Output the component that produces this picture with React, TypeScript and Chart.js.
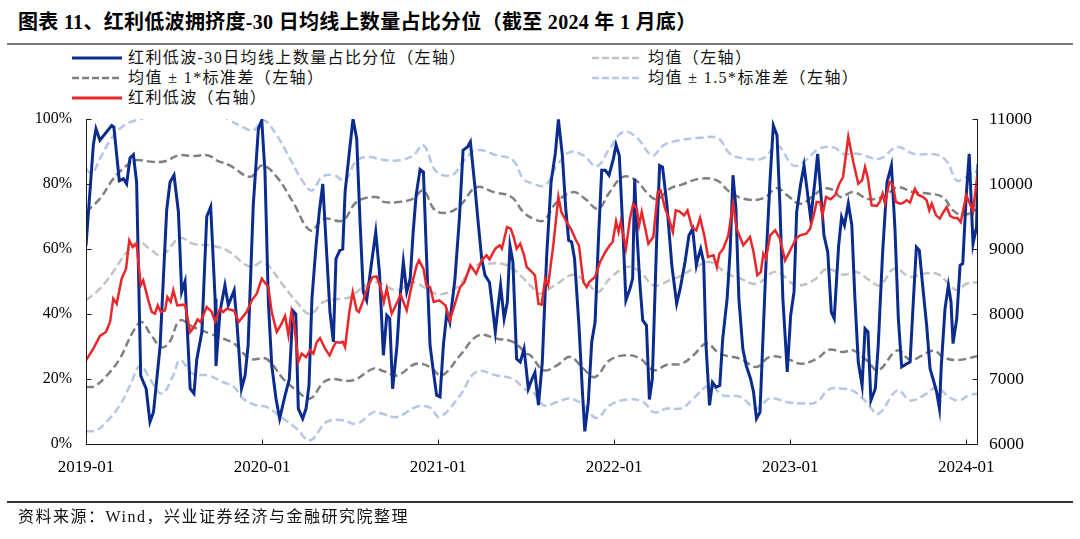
import React, { useEffect, useRef } from "react";
import { Chart, registerables } from "chart.js";

Chart.register(...registerables);

// x values are months since 2019-01
const xTickMonths = [0, 12, 24, 36, 48, 60];
const xTickLabels = ["2019-01", "2020-01", "2021-01", "2022-01", "2023-01", "2024-01"];
const leftTicks = [0, 20, 40, 60, 80, 100];
const rightTicks = [6000, 7000, 8000, 9000, 10000, 11000];

const legendLabels = [
  "红利低波-30日均线上数量占比分位（左轴）",
  "均值（左轴）",
  "均值 ± 1*标准差（左轴）",
  "均值 ± 1.5*标准差（左轴）",
  "红利低波（右轴）",
];

// 红利低波-30日均线上数量占比分位 (%), [month, value]
const crowdPct: [number, number][] = [
  [0, 61], [0.5, 92], [0.68, 97], [0.95, 93.5], [1.75, 98], [1.9, 97.5], [2.27, 81], [2.55, 81.6], [2.77, 80],
  [3.0, 88], [3.23, 89], [3.45, 80.6], [3.73, 21], [4.1, 17], [4.36, 6.8], [4.6, 9.8], [5.05, 30], [5.5, 72],
  [5.73, 80.6], [6.0, 82.7], [6.3, 71.4], [6.52, 46.8], [6.75, 50], [7.1, 17], [7.36, 15.5], [7.55, 26], [7.9, 34.5],
  [8.23, 70], [8.5, 73], [8.8, 44.7], [8.86, 24], [9.13, 40.6], [9.47, 48.8], [9.7, 42.7], [10.1, 47.3], [10.3, 36.5],
  [10.6, 17], [10.84, 21], [11.05, 30.4], [11.4, 73.4], [11.75, 97], [11.98, 99.6], [12.2, 83.7], [12.43, 43.7],
  [12.66, 24.2], [12.95, 14], [13.2, 7.8], [13.57, 15], [13.86, 20], [14.1, 41], [14.3, 40], [14.47, 10.9], [14.77, 7.8],
  [15.0, 10.9], [15.2, 18], [15.4, 44.7], [15.68, 61], [15.9, 71.4], [16.14, 80], [16.4, 59], [16.63, 40.6],
  [16.86, 31.4], [17.04, 57], [17.3, 59.6], [17.5, 60], [17.66, 77.5], [17.95, 89.8], [18.2, 100], [18.45, 94],
  [18.68, 68.3], [18.9, 46.8], [19.13, 44.2], [19.47, 56], [19.75, 65.2], [20.0, 53], [20.27, 27.3], [20.5, 39.6],
  [20.7, 38.6], [20.9, 17], [21.2, 30.4], [21.4, 44.7], [21.63, 56], [21.86, 46.8], [22.1, 50.9], [22.3, 65.2],
  [22.5, 76.5], [22.77, 84.5], [23.0, 83.7], [23.2, 59], [23.45, 30.4], [23.68, 22.2], [23.9, 15], [24.13, 14.5],
  [24.36, 30.4], [24.6, 40.6], [24.8, 37.5], [25.15, 50.9], [25.45, 69.3], [25.7, 90.4], [26.0, 91.4], [26.2, 93],
  [26.5, 79.6], [26.75, 67.3], [26.97, 57], [27.2, 51.9], [27.5, 49.8], [27.9, 34.5], [28.1, 42.7], [28.26, 48.8],
  [28.5, 38.6], [28.72, 43.7], [28.9, 61], [29.1, 56], [29.35, 26.2], [29.6, 25.2], [29.86, 29.3], [30.15, 17],
  [30.4, 20], [30.6, 22], [30.84, 12], [31.1, 25], [31.4, 58], [31.7, 80.6], [32.0, 89.8], [32.2, 99.9], [32.47, 88.8],
  [32.7, 72.4], [32.9, 62.7], [33.1, 62.2], [33.3, 57], [33.6, 36.5], [33.85, 15], [34.0, 3.9], [34.24, 13],
  [34.47, 31.4], [34.7, 37.5], [34.92, 62], [35.15, 84.2], [35.4, 84.2], [35.65, 82.7], [35.95, 87.8], [36.13, 92],
  [36.35, 88.8], [36.6, 65.2], [36.8, 44.2], [37.08, 47.8], [37.26, 50.9], [37.4, 81.6], [37.55, 65], [37.76, 48.8],
  [37.95, 38], [38.2, 36.5], [38.4, 13.7], [38.6, 20], [38.9, 63.2], [39.1, 85.7], [39.3, 85.2], [39.6, 73.4],
  [39.93, 55], [40.26, 43.2], [40.5, 47.8], [40.83, 56], [41.1, 64.2], [41.35, 66.2], [41.6, 55], [41.7, 57],
  [41.9, 60], [42.1, 56], [42.26, 30.4], [42.5, 11.9], [42.7, 19], [42.95, 17.5], [43.2, 18], [43.4, 32.4],
  [43.7, 44.7], [43.9, 59], [44.1, 82.7], [44.3, 72.4], [44.5, 44.7], [44.77, 29.3], [45.0, 24.2], [45.3, 20],
  [45.5, 16], [45.7, 7.8], [45.94, 9.8], [46.17, 35.5], [46.4, 61], [46.63, 81.6], [46.85, 98], [47.1, 95],
  [47.3, 73.4], [47.5, 44.7], [47.8, 22.2], [48.03, 39.6], [48.26, 46.8], [48.44, 71.4], [48.7, 79.6], [48.94, 85.7],
  [49.17, 77.5], [49.4, 69.3], [49.7, 81.6], [49.87, 89.3], [50.1, 76.5], [50.3, 64.2], [50.56, 59], [50.8, 40.6],
  [51.0, 38.6], [51.3, 61], [51.5, 69.8], [51.7, 67.3], [51.96, 74], [52.2, 67.3], [52.4, 45.7], [52.64, 25.2],
  [52.9, 18], [53.1, 35.5], [53.3, 34.5], [53.5, 13.4], [53.8, 17], [54.0, 30.4], [54.3, 59], [54.6, 80.6],
  [54.9, 85.7], [55.14, 66.2], [55.37, 38.6], [55.6, 23.7], [55.94, 24.7], [56.17, 25.2], [56.4, 44.7], [56.6, 60.6],
  [56.8, 59.6], [57.07, 46.8], [57.3, 36.5], [57.53, 23.2], [57.8, 19], [57.98, 16], [58.17, 10.9], [58.3, 24.2],
  [58.55, 41.6], [58.78, 48.8], [58.96, 43.7], [59.1, 30.9], [59.35, 38.6], [59.58, 55], [59.76, 55.5], [60.0, 76.5],
  [60.2, 89.3], [60.46, 61.6], [60.7, 66.8], [60.8, 86.2],
];

// 红利低波 index (right axis), [month, value]
const indexLevel: [number, number][] = [
  [0, 7288], [0.5, 7466], [0.95, 7662], [1.36, 7723], [1.64, 7877], [1.86, 8236], [2.09, 8158], [2.43, 8543],
  [2.73, 8697], [2.95, 9134], [3.18, 9031], [3.45, 9082], [3.73, 8441], [3.9, 8518], [4.25, 8210], [4.48, 8031],
  [4.7, 8005], [4.89, 8133], [5.09, 8031], [5.39, 8056], [5.54, 8262], [5.77, 8185], [5.95, 8364], [6.22, 8133],
  [6.75, 8144], [7.1, 7723], [7.36, 7800], [7.6, 7918], [7.8, 7877], [8.23, 8108], [8.57, 8031], [8.8, 7887],
  [9.13, 8082], [9.36, 8031], [9.6, 8082], [10.1, 8050], [10.4, 7877], [10.95, 8031], [11.3, 8210], [11.64, 8313],
  [11.98, 8543], [12.43, 8415], [12.66, 8031], [13.0, 7723], [13.27, 7826], [13.57, 7969], [13.8, 7672], [14.0, 8031],
  [14.2, 7826], [14.47, 7262], [14.7, 7390], [15.0, 7338], [15.27, 7441], [15.5, 7390], [15.73, 7569], [15.95, 7631],
  [16.3, 7466], [16.6, 7364], [16.86, 7492], [17.04, 7569], [17.3, 7559], [17.5, 7574], [17.66, 7492], [17.95, 8031],
  [18.18, 8338], [18.45, 8056], [18.6, 8031], [18.9, 8210], [19.24, 8441], [19.54, 8569], [19.8, 8580], [20.04, 8441],
  [20.3, 8185], [20.5, 8390], [20.84, 8005], [21.06, 8108], [21.45, 8297], [21.86, 8056], [22.2, 8441], [22.54, 8749],
  [22.7, 8826], [23.0, 8697], [23.2, 8441], [23.45, 8415], [23.7, 8185], [24.08, 8210], [24.5, 8133], [24.8, 7902],
  [25.15, 8159], [25.5, 8415], [25.8, 8492], [26.2, 8749], [26.6, 8620], [26.97, 8826], [27.3, 8903], [27.5, 8841],
  [27.9, 9005], [28.2, 9057], [28.35, 9005], [28.7, 9338], [28.95, 9313], [29.15, 9185], [29.35, 9005], [29.6, 9082],
  [29.86, 8903], [30.04, 8723], [30.4, 8646], [30.6, 8595], [30.84, 8159], [31.06, 8144], [31.3, 8543], [31.5, 8441],
  [31.85, 9057], [32.2, 9800], [32.4, 9569], [32.77, 9415], [33.1, 9287], [33.4, 9134], [33.6, 9057], [33.9, 8492],
  [34.13, 8415], [34.3, 8492], [34.7, 8569], [35.04, 8800], [35.4, 8954], [35.7, 9057], [35.9, 9108], [36.13, 9426],
  [36.3, 9262], [36.45, 9415], [36.8, 9005], [37.08, 9467], [37.3, 9697], [37.54, 9620], [37.7, 9364], [37.88, 9569],
  [38.1, 9338], [38.33, 9082], [38.67, 9185], [38.97, 9877], [39.17, 9903], [39.47, 9620], [39.7, 9492], [40.0, 9262],
  [40.2, 9595], [40.44, 9580], [40.77, 9518], [41.0, 9595], [41.3, 9338], [41.6, 9287], [41.86, 9477], [42.14, 9210],
  [42.4, 8877], [42.77, 8903], [43.0, 8723], [43.17, 8928], [43.44, 9005], [43.78, 9210], [44.1, 9697], [44.35, 9313],
  [44.8, 9057], [45.26, 9185], [45.5, 8954], [45.76, 8595], [46.0, 8646], [46.17, 8928], [46.35, 8851], [46.63, 9210],
  [46.97, 9287], [47.3, 9159], [47.65, 8826], [48.0, 8980], [48.4, 9159], [48.67, 9210], [49.1, 9236], [49.35, 9313],
  [49.6, 9518], [49.8, 9723], [50.05, 9723], [50.2, 9518], [50.44, 9800], [50.75, 9764], [51.06, 9826], [51.35, 10005],
  [51.6, 10108], [51.96, 10723], [52.3, 10338], [52.64, 10005], [52.9, 10056], [53.1, 10262], [53.3, 10082],
  [53.55, 9672], [53.9, 9662], [54.1, 9723], [54.3, 9851], [54.46, 9697], [54.76, 10031], [55.0, 9990], [55.2, 9723],
  [55.5, 9697], [55.7, 9710], [55.94, 9749], [56.17, 9713], [56.5, 9928], [56.7, 9836], [57.07, 9800], [57.3, 9749],
  [57.48, 9595], [57.65, 9697], [57.94, 9518], [58.2, 9467], [58.45, 9569], [58.67, 9646], [58.9, 9508], [59.17, 9477],
  [59.4, 9477], [59.62, 9415], [60.0, 9826], [60.2, 9723], [60.46, 9580], [60.7, 10031], [60.8, 9954],
];

// 均值 (%)
const meanLine: [number, number][] = [
  [0, 44.2], [0.95, 47.8], [1.86, 53], [2.77, 59], [3.57, 62.2], [4.36, 60], [5.16, 58], [6.4, 63.4], [7.3, 61.6],
  [8.45, 61.1], [9.6, 59.6], [11.2, 54.5], [12.1, 56], [13.45, 48.8], [14.36, 43.7], [15.27, 40], [16.2, 43.7],
  [17.3, 44.7], [18, 45.2], [18.9, 48.3], [19.8, 49.8], [21.2, 47.3], [22.3, 49.8], [23.2, 47.8], [24.1, 46],
  [25.3, 48.3], [26.4, 54.5], [27.5, 55.5], [28.7, 55], [29.6, 51.9], [30.5, 47.8], [30.9, 46.2], [32.1, 49.3],
  [33.2, 52.1], [34.1, 49.8], [34.9, 46.8], [35.7, 50.9], [36.9, 54.5], [37.8, 52.9], [38.7, 48.8], [39.8, 50.4],
  [40.6, 51.9], [41.4, 53.9], [42.5, 56], [43.7, 52.4], [44.6, 50.9], [45.7, 49.3], [46.85, 52.9], [47.5, 51.9],
  [48.4, 48.8], [49.6, 50.4], [50.5, 53.9], [51.6, 52.1], [52.5, 52.9], [53.4, 50.4], [54.1, 48.8], [55.1, 53.9],
  [56.2, 51.4], [57.1, 52.4], [58, 52.4], [58.7, 49.8], [59.4, 47.3], [60, 49.3], [60.8, 49.8],
];

// 均值 + 1*标准差 (%)
const upper1: [number, number][] = [
  [0, 71.4], [0.95, 75.5], [1.86, 81.6], [2.77, 85.7], [3.34, 87.3], [4.6, 86.8], [5.4, 87], [6.3, 88.8], [7.3, 88.6],
  [8.34, 88.8], [8.9, 87.3], [9.8, 85.7], [11.2, 82.2], [12, 85.7], [13, 82.2], [14.1, 74.5], [15.3, 65.7],
  [16.2, 69.3], [17.5, 68.8], [18.45, 74.5], [19.8, 76], [20.3, 74.5], [21.4, 74.5], [22.3, 75.5], [23, 78],
  [23.8, 71.9], [24.8, 71.4], [25.6, 73.9], [26.6, 79], [27.8, 77.5], [29, 76], [29.8, 71.4], [30.5, 69.3],
  [31.2, 68.8], [32.1, 74.5], [33.2, 77.5], [34, 75.5], [34.9, 72.4], [35.7, 77.5], [36.6, 82.2], [37.5, 81.1],
  [38.2, 77.5], [38.9, 75.3], [39.8, 78.6], [40.6, 79.8], [41.85, 81.6], [43, 81.1], [43.9, 77.5], [45, 75.3],
  [46.2, 75.7], [47.1, 78.8], [47.8, 76.5], [48.7, 73.9], [49.6, 76.5], [50.3, 78.6], [51, 78], [51.4, 76],
  [52.3, 77.5], [53.4, 75.3], [54.5, 76.5], [55.3, 79], [56.4, 77.5], [57.5, 77], [58.4, 76], [59.1, 71.9],
  [59.8, 70.4], [60.8, 72.4],
];

// 均值 - 1*标准差 (%)
const lower1: [number, number][] = [
  [0, 17.5], [0.6, 17.8], [1.4, 21], [2.3, 26.2], [3.2, 34.5], [3.8, 37.5], [4.36, 34], [5.16, 29.8], [5.7, 31.4],
  [6.4, 38], [7.3, 36], [8.45, 34], [9.36, 32.4], [10.1, 30.9], [11.2, 26.2], [12.3, 26.2], [13.45, 20], [14.36, 16.5],
  [15.27, 14], [16.4, 19.6], [18.2, 19.6], [19.6, 23.2], [20.3, 22.4], [21.2, 21.1], [22.5, 24.7], [23.45, 23.7],
  [24.25, 21.1], [25.5, 27.3], [26.75, 33.4], [28, 32.4], [29.1, 31.4], [30.04, 27.8], [30.3, 27.3], [31.2, 22.7],
  [32.1, 24.2], [33, 26.8], [33.9, 23.2], [34.7, 20.6], [35.7, 25.8], [36.9, 27.3], [37.8, 26.2], [38.7, 22.7],
  [39.6, 24.4], [40.6, 24.7], [41.4, 27.3], [42.3, 30.9], [43.2, 27.8], [44.6, 26.2], [45.7, 23.7], [46.6, 26.8],
  [47.8, 26.2], [48.7, 24.7], [49.8, 26.2], [50.65, 29], [51.6, 28.3], [52.3, 28.8], [53.2, 25.8], [54, 22.7],
  [55.3, 28.8], [56.2, 25.8], [57, 27.3], [57.8, 28.8], [58.4, 26.8], [59.35, 25.8], [60.8, 27.1],
];

// 均值 + 1.5*标准差 (%)
const upper15: [number, number][] = [
  [0, 84.7], [0.4, 83.2], [0.95, 87.8], [1.64, 93.4], [2.3, 97], [3, 99], [3.8, 100.1], [4.6, 101.5], [6.3, 103],
  [8, 103], [9.3, 101], [9.8, 99.6], [10.7, 97.5], [11.4, 96.5], [12.1, 99.6], [13, 95], [13.9, 87.8], [14.8, 80.6],
  [15.4, 78], [16.1, 82.2], [16.9, 82.7], [17.65, 81.1], [18.45, 87.3], [19.36, 88.3], [20.1, 87.5], [21.4, 87.3],
  [22.3, 88.8], [23, 91.9], [23.9, 83.7], [25, 82.9], [25.7, 86.8], [26.6, 90.4], [28, 88.8], [29.1, 87.3],
  [29.8, 81.6], [30.4, 80.2], [31.3, 79.6], [32.1, 85.7], [33, 89.8], [33.9, 88.8], [34.8, 85.5], [35.7, 90.9],
  [36.6, 96], [37.5, 94.5], [38.6, 88.8], [39.35, 91.9], [40.4, 93.4], [41.85, 94.2], [43.1, 94], [43.9, 89.3],
  [45, 87.8], [46.2, 88], [47.1, 91.9], [48.2, 85.7], [48.9, 86.8], [50, 90.9], [51, 91.2], [51.6, 89.3],
  [52.6, 89.3], [54.1, 87.8], [55.3, 91.4], [56.4, 89.3], [58, 89], [58.7, 86.8], [59.35, 81.1], [60, 82.2],
  [60.8, 84.2],
];

// 均值 - 1.5*标准差 (%)
const lower15: [number, number][] = [
  [0, 3.9], [0.7, 4.2], [1.4, 6.8], [2.3, 11.9], [3, 18], [3.7, 24.2], [4.36, 20], [5.16, 15.5], [5.95, 21.1],
  [6.4, 25.8], [7.3, 21.6], [8.34, 21.1], [9.36, 19], [10.1, 17.5], [10.7, 14], [11.6, 11.9], [12.3, 11.4],
  [13.45, 7.8], [14.36, 4.7], [15.27, 1.1], [16.4, 6.8], [17.5, 7.3], [18.45, 6.2], [19.6, 9.8], [20.2, 9.3],
  [21.2, 8.3], [22.5, 11.4], [23.45, 11.2], [24.1, 8.3], [25.5, 15], [26.6, 22.2], [28, 21.1], [29.1, 20],
  [30.04, 16.5], [30.3, 17], [31.2, 11.9], [32.1, 12.9], [33, 14], [33.9, 11.9], [34.8, 8], [35.7, 11.9],
  [36.9, 13.7], [38, 12.9], [38.7, 9.8], [39.6, 10.9], [40.6, 11], [41.4, 14], [42.5, 18], [43.4, 15], [44.6, 14.5],
  [45.7, 10.9], [46.6, 14], [47.8, 12.9], [48.7, 12.5], [49.8, 12.9], [50.65, 16.8], [51.6, 17], [52.3, 16.3],
  [53.2, 12.9], [54, 9.3], [55.3, 16.5], [56.2, 13.4], [57.3, 15.5], [58, 17.5], [58.8, 14.5], [59.5, 13.4],
  [60.2, 15], [60.8, 15.5],
];

const NAVY = "#0b2c8e";
const RED = "#e8282b";
const DARK_GRAY = "#808080";
const LIGHT_GRAY = "#c3c3c3";
const LIGHT_BLUE = "#b4c7e7";

const SERIF = "'Liberation Serif', 'Times New Roman', serif";
const TEXT_FONT = "'Liberation Serif', 'Noto Sans CJK SC', serif";

const toXY = (arr: [number, number][]) => arr.map(([x, y]) => ({ x, y }));

const insideTicks = {
  id: "insideTicks",
  afterDatasetsDraw(chart: any) {
    const { ctx, chartArea: a, scales } = chart;
    ctx.save();
    ctx.strokeStyle = "#1a1a1a";
    ctx.lineWidth = 1;
    ctx.beginPath();
    const L = Math.round(a.left) + 0.5;
    const R = Math.round(a.right) - 0.5;
    const B = Math.round(a.bottom) + 0.5;
    ctx.moveTo(L, a.top);
    ctx.lineTo(L, B);
    ctx.lineTo(R, B);
    ctx.lineTo(R, a.top);
    for (const v of leftTicks) {
      const y = Math.round(scales.y.getPixelForValue(v)) + 0.5;
      ctx.moveTo(L, y);
      ctx.lineTo(L + 5, y);
    }
    for (const v of rightTicks) {
      const y = Math.round(scales.y1.getPixelForValue(v)) + 0.5;
      ctx.moveTo(R, y);
      ctx.lineTo(R - 5, y);
    }
    for (const v of xTickMonths) {
      const x = Math.round(scales.x.getPixelForValue(v)) + 0.5;
      ctx.moveTo(x, B);
      ctx.lineTo(x, B - 5);
    }
    ctx.stroke();
    ctx.restore();
  },
};

function LegendSample({ color, dash, width }: { color: string; dash?: boolean; width: number }) {
  return (
    <svg width={50} height={8} style={{ display: "block" }}>
      <line
        x1={0}
        y1={4}
        x2={50}
        y2={4}
        stroke={color}
        strokeWidth={width}
        strokeDasharray={dash ? "7 3" : undefined}
      />
    </svg>
  );
}

function LegendItem({ x, y, color, dash, label }: { x: number; y: number; color: string; dash?: boolean; label: string }) {
  return (
    <div style={{ position: "absolute", left: x, top: y - 10, height: 20, display: "flex", alignItems: "center" }}>
      <LegendSample color={color} dash={dash} width={dash ? 2.5 : 3} />
      <span
        style={{
          marginLeft: 6,
          fontFamily: TEXT_FONT,
          fontSize: 16,
          letterSpacing: 1.4,
          color: "#111",
          whiteSpace: "nowrap",
          lineHeight: "20px",
        }}
      >
        {label}
      </span>
    </div>
  );
}

export default function App() {
  const canvasRef = useRef<HTMLCanvasElement | null>(null);

  useEffect(() => {
    if (!canvasRef.current) return;
    const bandStyle = (color: string) => ({
      borderColor: color,
      borderWidth: 2.5,
      borderDash: [8, 4],
      pointRadius: 0,
      tension: 0.4,
      fill: false,
      yAxisID: "y",
    });
    const chart = new Chart(canvasRef.current, {
      type: "line",
      data: {
        datasets: [
          {
            label: legendLabels[4],
            data: toXY(indexLevel),
            borderColor: RED,
            borderWidth: 2.5,
            pointRadius: 0,
            tension: 0,
            yAxisID: "y1",
          },
          {
            label: legendLabels[0],
            data: toXY(crowdPct),
            borderColor: NAVY,
            borderWidth: 3,
            pointRadius: 0,
            tension: 0,
            yAxisID: "y",
          },
          { label: legendLabels[1], data: toXY(meanLine), ...bandStyle(LIGHT_GRAY) },
          { label: legendLabels[2], data: toXY(upper1), ...bandStyle(DARK_GRAY) },
          { label: legendLabels[2], data: toXY(lower1), ...bandStyle(DARK_GRAY) },
          { label: legendLabels[3], data: toXY(upper15), ...bandStyle(LIGHT_BLUE) },
          { label: legendLabels[3], data: toXY(lower15), ...bandStyle(LIGHT_BLUE) },
        ] as any,
      },
      options: {
        responsive: false,
        animation: false,
        devicePixelRatio: 1,
        layout: { padding: { top: 119, left: 0, right: 0, bottom: 0 } },
        plugins: { legend: { display: false }, tooltip: { enabled: false } },
        scales: {
          x: {
            type: "linear",
            min: 0,
            max: 60.8,
            grid: { display: false, drawTicks: false },
            border: { display: false },
            afterBuildTicks: (scale: any) => {
              scale.ticks = xTickMonths.map((v) => ({ value: v }));
            },
            afterFit: (scale: any) => {
              scale.height = 95;
            },
            ticks: {
              padding: 13,
              maxRotation: 0,
              autoSkip: false,
              color: "#000",
              font: { family: SERIF, size: 17 },
              callback: (v: any) => xTickLabels[xTickMonths.indexOf(Number(v))] ?? "",
            },
          },
          y: {
            position: "left",
            min: 0,
            max: 100,
            grid: { display: false, drawTicks: false },
            border: { display: false },
            afterBuildTicks: (scale: any) => {
              scale.ticks = leftTicks.map((v) => ({ value: v }));
            },
            afterFit: (scale: any) => {
              scale.width = 86;
            },
            ticks: {
              padding: 14,
              color: "#000",
              font: { family: SERIF, size: 16 },
              callback: (v: any) => `${v}%`,
            },
          },
          y1: {
            position: "right",
            min: 6000,
            max: 11000,
            grid: { display: false, drawTicks: false },
            border: { display: false },
            afterBuildTicks: (scale: any) => {
              scale.ticks = rightTicks.map((v) => ({ value: v }));
            },
            afterFit: (scale: any) => {
              scale.width = 102;
            },
            ticks: {
              padding: 11,
              color: "#000",
              font: { family: SERIF, size: 17.5 },
              callback: (v: any) => `${v}`,
            },
          },
        },
      } as any,
      plugins: [insideTicks],
    });
    return () => chart.destroy();
  }, []);

  return (
    <div
      style={{
        position: "absolute",
        left: 0,
        top: 0,
        width: 1080,
        height: 539,
        background: "#fff",
        overflow: "hidden",
      }}
    >
      <div
        style={{
          position: "absolute",
          left: 18,
          top: 9,
          fontFamily: TEXT_FONT,
          fontWeight: 700,
          fontSize: 20,
          letterSpacing: 0.3,
          lineHeight: "26px",
          color: "#000",
          whiteSpace: "nowrap",
        }}
      >
        图表 11、红利低波拥挤度-30 日均线上数量占比分位（截至 2024 年 1 月底）
      </div>
      <div style={{ position: "absolute", left: 7, top: 43, width: 1066, height: 2, background: "#7a7a7a" }} />
      <LegendItem x={72} y={58} color={NAVY} label={legendLabels[0]} />
      <LegendItem x={72} y={78} color={DARK_GRAY} dash label={legendLabels[2]} />
      <LegendItem x={72} y={98} color={RED} label={legendLabels[4]} />
      <LegendItem x={592} y={58} color={LIGHT_GRAY} dash label={legendLabels[1]} />
      <LegendItem x={592} y={78} color={LIGHT_BLUE} dash label={legendLabels[3]} />
      <canvas
        ref={canvasRef}
        width={1080}
        height={539}
        style={{ position: "absolute", left: 0, top: 0, width: 1080, height: 539 }}
      />
      <div style={{ position: "absolute", left: 7, top: 501, width: 1066, height: 1.5, background: "#333" }} />
      <div
        style={{
          position: "absolute",
          left: 18,
          top: 506,
          fontFamily: TEXT_FONT,
          fontSize: 16,
          letterSpacing: 1.5,
          lineHeight: "22px",
          color: "#111",
          whiteSpace: "nowrap",
        }}
      >
        资料来源：Wind，兴业证券经济与金融研究院整理
      </div>
    </div>
  );
}
